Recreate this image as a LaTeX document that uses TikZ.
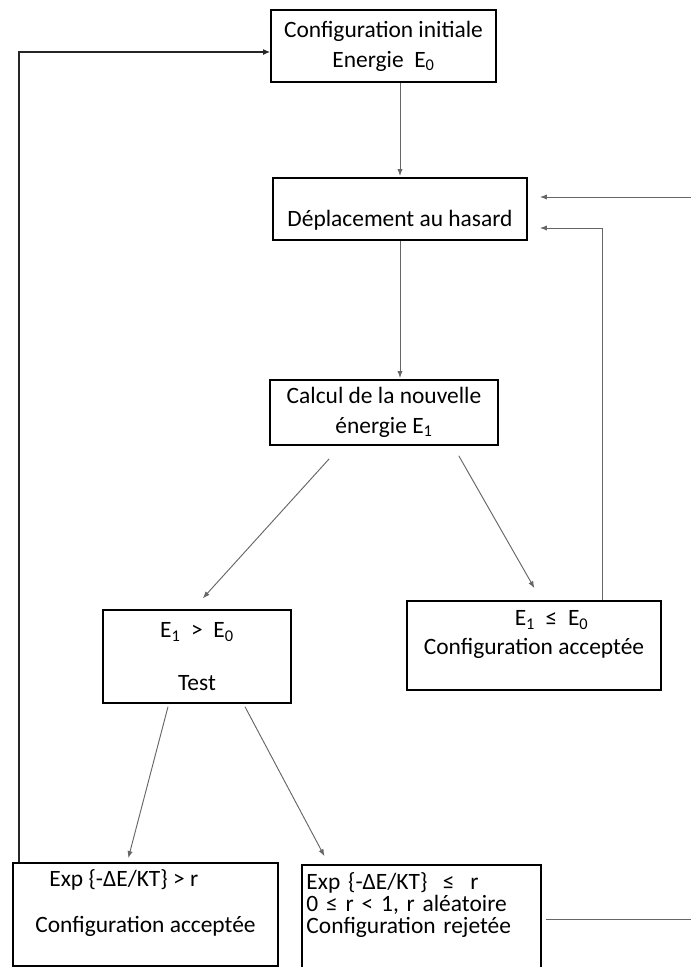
\documentclass[tikz,border=0pt]{standalone}
\usepackage{fontspec}
\setmainfont{Carlito}
\usetikzlibrary{arrows.meta,calc}
\begin{document}
\begin{tikzpicture}[x=0.03cm, y=-0.03cm,
    box/.style={draw, line width=1.3pt, align=center, inner sep=2pt,
      font=\fontsize{20}{25}\selectfont},
    arr/.style={draw=black!60, line width=0.8pt, shorten >=1pt,
      -{Latex[length=6pt,width=4.5pt]}},
    loopline/.style={draw=black!85, line width=1.6pt,
      -{Latex[length=6pt,width=5pt]}}]
  \useasboundingbox (0,0) rectangle (691,967);
  \node[box, minimum width=6.75cm, minimum height=2.16cm, text depth=3pt] (init)
    at (383.5,46) {Configuration initiale\\Energie\ \ E\textsubscript{0}};
  \node[box, minimum width=7.62cm, minimum height=1.86cm, text height=33pt] (depl)
    at (400,209) {Déplacement au hasard};
  \node[box, minimum width=6.84cm, minimum height=1.95cm] (calc)
    at (384,412.5) {Calcul de la nouvelle\\énergie E\textsubscript{1}};
  \node[box, minimum width=5.64cm, minimum height=2.79cm] (test)
    at (197,656.5) {E\textsubscript{1}\ \ >\ \ E\textsubscript{0}\\[20pt]Test};
  \node[box, minimum width=7.62cm, minimum height=2.67cm, text depth=22pt] (accE)
    at (534,645.5) {\hspace*{30pt}E\textsubscript{1}\ \ ≤\ \ E\textsubscript{0}\\Configuration acceptée};
  \node[box, align=left, minimum width=7.95cm, minimum height=3.09cm, text depth=23pt] (accF)
    at (145.5,914.5) {\hspace*{12pt}Exp {\{-ΔE/KT\}} > r\\[15pt]Configuration acceptée};
  \node[box, align=left, text width=6.9cm, minimum width=7.17cm, minimum height=3.24cm,
    text depth=64pt, font=\fontsize{20}{18.5}\selectfont] (rej)
    at (421.5,919) {Exp {\{-ΔE/KT\}}\ \ ≤\ \ r\\0 ≤ r < 1, r aléatoire\\Configuration rejetée};
  \coordinate (rturn) at (700,919);
  \draw[arr] (init.south -| depl.north) -- (depl.north);
  \draw[arr] (depl.south) -- (depl.south |- calc.north);
  \draw[arr] ($(calc.south west)+(60,13)$) -- ($(test.north)+(5,-10)$);
  \draw[arr] ($(calc.south east)+(-40,10)$) -- ($(accE.north)+(1,-11)$);
  \draw[arr] ($(test.south)+(-29,3)$) -- ($(accF.north)+(-17.5,-3)$);
  \draw[arr] ($(test.south)+(48,3)$) -- ($(rej.north)+(-96.5,-7)$);
  \draw[loopline] ($(accF.north west)+(7,0)$) |- ($(init.west)+(0,6)$);
  \draw[arr] ($(accE.north)+(68,0)$) |- ($(depl.east)+(11,19)$);
  \draw[arr] ($(rej.east)+(4,0)$) -- (rturn) |- ($(depl.east)+(11,-12)$);
\end{tikzpicture}
\end{document}
